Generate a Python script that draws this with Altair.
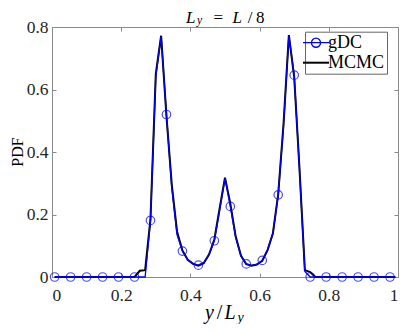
import altair as alt
import pandas as pd

# grid of y/L_y (cell centres), 65 cells
x_grid = [0.0077, 0.0231, 0.0385, 0.0538, 0.0692, 0.0846, 0.1000, 0.1154, 0.1308, 0.1462,
          0.1615, 0.1769, 0.1923, 0.2077, 0.2231, 0.2385, 0.2538, 0.2692, 0.2846, 0.3000,
          0.3154, 0.3308, 0.3462, 0.3615, 0.3769, 0.3923, 0.4077, 0.4231, 0.4385, 0.4538,
          0.4692, 0.4846, 0.5000, 0.5154, 0.5308, 0.5462, 0.5615, 0.5769, 0.5923, 0.6077,
          0.6231, 0.6385, 0.6538, 0.6692, 0.6846, 0.7000, 0.7154, 0.7308, 0.7462, 0.7615,
          0.7769, 0.7923, 0.8077, 0.8231, 0.8385, 0.8538, 0.8692, 0.8846, 0.9000, 0.9154,
          0.9308, 0.9462, 0.9615, 0.9769, 0.9923]

gdc_pdf = [0.0, 0.0, 0.0, 0.0, 0.0, 0.0, 0.0, 0.0, 0.0, 0.0,
           0.0, 0.0, 0.0, 0.0, 0.0, 0.0, 0.0, 0.0, 0.181, 0.643,
           0.770, 0.520, 0.285, 0.135, 0.083, 0.055, 0.043, 0.038, 0.046, 0.072,
           0.116, 0.215, 0.316, 0.226, 0.127, 0.068, 0.042, 0.037, 0.040, 0.053,
           0.088, 0.140, 0.263, 0.485, 0.772, 0.646, 0.340, 0.018, 0.0, 0.0,
           0.0, 0.0, 0.0, 0.0, 0.0, 0.0, 0.0, 0.0, 0.0, 0.0,
           0.0, 0.0, 0.0, 0.0, 0.0]

mcmc_pdf = [0.0, 0.0, 0.0, 0.0, 0.0, 0.0, 0.0, 0.0, 0.0, 0.0,
            0.0, 0.0, 0.0, 0.0, 0.0, 0.0, 0.020, 0.022, 0.185, 0.650,
            0.772, 0.515, 0.295, 0.145, 0.085, 0.055, 0.042, 0.036, 0.044, 0.072,
            0.120, 0.220, 0.318, 0.235, 0.130, 0.068, 0.041, 0.036, 0.040, 0.052,
            0.086, 0.140, 0.265, 0.490, 0.774, 0.640, 0.345, 0.022, 0.016, 0.0,
            0.0, 0.0, 0.0, 0.0, 0.0, 0.0, 0.0, 0.0, 0.0, 0.0,
            0.0, 0.0, 0.0, 0.0, 0.0]

x_ticks = [0, 0.2, 0.4, 0.6, 0.8, 1]
y_ticks = [0, 0.2, 0.4, 0.6, 0.8]
series = ["gDC", "MCMC"]
colors = ["#0000ff", "#000000"]
marker_every = 3

rows = []
for i, (xv, g, m) in enumerate(zip(x_grid, gdc_pdf, mcmc_pdf)):
    rows.append({"i": i, "x": xv, "pdf": g, "series": "gDC"})
    rows.append({"i": i, "x": xv, "pdf": m, "series": "MCMC"})
df = pd.DataFrame(rows)

W, H = 346, 250
FONT = "Liberation Serif"
AX = "#8a8a8a"
LBL = "#262626"

xscale = alt.Scale(domain=[0, 1], nice=False, zero=False)
yscale = alt.Scale(domain=[0, 0.8], nice=False, zero=False)

gdc_path = ("M-1,0L1,0M0.35,0A0.35,0.35,0,1,1,-0.35,0"
            "A0.35,0.35,0,1,1,0.35,0")

legend = alt.Legend(
    title=None, orient="none", legendX=253, legendY=4.7,
    fillColor="white", strokeColor="#666666", padding=2,
    labelFont=FONT, labelFontSize=18, labelColor="black",
    symbolSize=676, labelOffset=3, rowPadding=2,
    symbolFillColor="transparent",
    symbolType=alt.ExprRef(expr="datum.value === 'gDC' ? '" + gdc_path + "' : 'stroke'"),
    symbolStrokeWidth=alt.ExprRef(expr="datum.value === 'gDC' ? 1.3 : 2"),
)
color = alt.Color("series:N", scale=alt.Scale(domain=series, range=colors), legend=legend)

def ax(orient, vals, labels, pad=0):
    d = dict(orient=orient, values=vals, labels=labels, grid=False, title=None,
             domainColor=AX, tickColor=AX, domainWidth=1, tickWidth=1,
             tickSize=alt.ExprRef(expr="-4"))
    if labels:
        d.update(format="~g", labelFont=FONT, labelFontSize=17.5, labelColor=LBL,
                 labelPadding=pad)
    return alt.Axis(**d)

base = alt.Chart(df)

mcmc_line = base.transform_filter(alt.datum.series == "MCMC").mark_line(strokeWidth=2).encode(
    x=alt.X("x:Q", scale=xscale, axis=ax("bottom", x_ticks, True, 13)),
    y=alt.Y("pdf:Q", scale=yscale, axis=ax("left", y_ticks, True, 8)),
    color=color,
)

gdc_line = base.transform_filter(alt.datum.series == "gDC").mark_line(strokeWidth=1.3).encode(
    x=alt.X("x:Q", scale=xscale, axis=ax("top", x_ticks, False)),
    y=alt.Y("pdf:Q", scale=yscale, axis=ax("right", y_ticks, False)),
    color=color,
)

gdc_marks = base.transform_filter(alt.datum.series == "gDC").transform_filter(
    alt.datum.i % marker_every == 0
).mark_point(shape="circle", filled=False, size=72, strokeWidth=1.2, color="#0000ff").encode(
    x=alt.X("x:Q", scale=xscale, axis=None),
    y=alt.Y("pdf:Q", scale=yscale, axis=None),
)

one = pd.DataFrame({"k": [0]})

def txt(s, x, y, size, italic=False, angle=0, align="left"):
    kw = dict(text=s, font=FONT, fontSize=size, color="black", align=align, baseline="alphabetic")
    if italic:
        kw["fontStyle"] = "italic"
    if angle:
        kw["angle"] = angle
    return alt.Chart(one).mark_text(**kw).encode(x=alt.value(x), y=alt.value(y))

texts = [
    # title  L_y = L/8
    txt("L", 134, -3.8, 17, True),
    txt("y", 145, -2.6, 11.5, True),
    txt("=", 166.3, -3.8, 17, False, 0, "center"),
    txt("L", 180.5, -3.8, 17, True),
    txt("/", 198, -3.8, 17, False, 0, "center"),
    txt("8", 204, -3.8, 17),
    # x title  y/L_y
    txt("y", 153, 292, 20, True),
    txt("/", 167.5, 292, 20, False, 0, "center"),
    txt("L", 172.5, 292, 20, True),
    txt("y", 185.5, 295, 14, True),
    # y title
    txt("PDF", -29.5, 125, 16, False, 270, "center"),
]

chart = alt.layer(mcmc_line, gdc_line, gdc_marks, *texts).resolve_scale(
    x="independent", y="independent"
).resolve_axis(x="independent", y="independent").properties(
    width=W, height=H,
    padding={"left": 44, "top": 19, "right": 1, "bottom": 47},
    autosize=alt.AutoSizeParams(type="none"),
).configure_view(stroke=None).configure_axis(labelFont=FONT)

chart.save("out.html", embed_options={"renderer": "svg", "actions": False})
